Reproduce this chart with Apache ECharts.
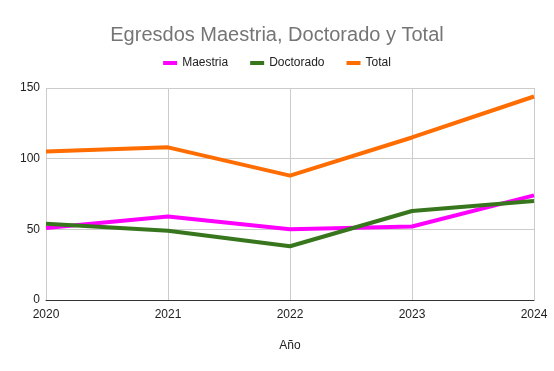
<!DOCTYPE html>
<html><head><meta charset="utf-8">
<script src="https://cdn.jsdelivr.net/npm/echarts@6/dist/echarts.min.js"></script>
<style>html,body{margin:0;padding:0;background:#fff}#c{width:554px;height:371px}</style>
</head><body><div id="c"></div>
<script>
const years = ['2020','2021','2022','2023','2024'];
const maestria = [51, 59, 50, 52, 74];
const doctorado = [54, 49, 38, 63, 70];
const total = [105, 108, 88, 115, 144];
const yTicks = [0, 50, 100, 150];

const F = 'Arial, "Liberation Sans", sans-serif';
const chart = echarts.init(document.getElementById('c'));
const lineSeries = (name, data, color) => ({
  name, type: 'line', data, symbol: 'none', smooth: false,
  lineStyle: { width: 4, color }, itemStyle: { color }
});
chart.setOption({
  animation: false,
  title: { text: 'Egresdos Maestria, Doctorado y Total', left: 'center', top: 20,
    textStyle: { fontFamily: F, fontSize: 20, fontWeight: 'normal', color: '#757575' } },
  legend: { top: 52, left: 'center', itemWidth: 14, itemHeight: 4, itemGap: 22, icon: 'rect',
    textStyle: { fontFamily: F, fontSize: 12, color: '#222' },
    data: ['Maestria', 'Doctorado', 'Total'] },
  grid: { left: 46, right: 20, top: 88, bottom: 71, containLabel: false },
  xAxis: { type: 'category', data: years, boundaryGap: false,
    name: 'Año', nameLocation: 'middle', nameGap: 40,
    nameTextStyle: { fontFamily: F, fontSize: 12, color: '#222' },
    axisLine: { lineStyle: { color: '#333', width: 1 } }, axisTick: { show: false },
    axisLabel: { fontFamily: F, fontSize: 12, color: '#222', margin: 9 },
    splitLine: { show: true, lineStyle: { color: '#cccccc' } } },
  yAxis: { type: 'value', min: yTicks[0], max: yTicks[yTicks.length-1], interval: 50,
    axisLine: { show: false }, axisTick: { show: false },
    axisLabel: { fontFamily: F, fontSize: 12, color: '#222', margin: 6 },
    splitLine: { lineStyle: { color: '#cccccc' } } },
  series: [
    lineSeries('Maestria', maestria, '#ff00ff'),
    lineSeries('Doctorado', doctorado, '#38761d'),
    lineSeries('Total', total, '#ff6d01')
  ]
});
</script></body></html>
